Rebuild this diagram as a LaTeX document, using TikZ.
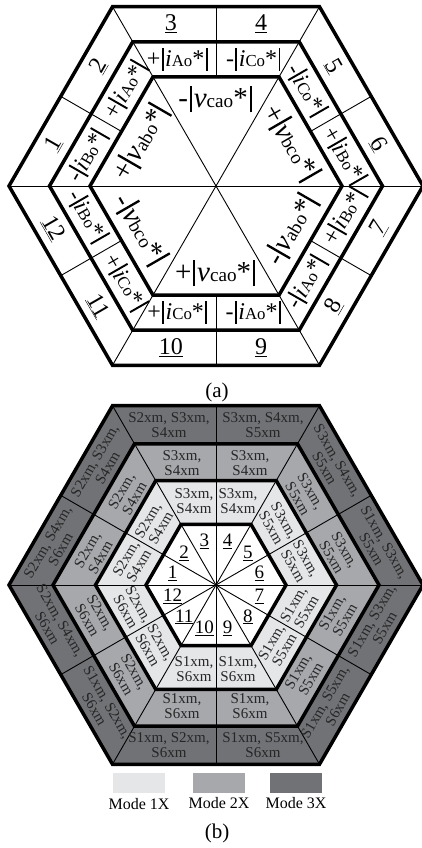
\documentclass[tikz,border=0pt]{standalone}
\usepackage{fontspec}
\setmainfont{Liberation Serif}
\usepackage{graphicx}
\usetikzlibrary{positioning}

\definecolor{modeone}{HTML}{E5E6E8}
\definecolor{modetwo}{HTML}{A7A8AC}
\definecolor{modethree}{HTML}{717276}

\newcommand{\absbar}{\kern.06em\rule[-.15em]{.08em}{.92em}\kern.06em}
\newcommand{\iabs}[2]{#1\absbar\textit{i}\scalebox{.7}{#2}*\absbar}
\newcommand{\vabs}[2]{#1\absbar\textit{v}\scalebox{.66}{#2}*\absbar}

\begin{document}
\begin{tikzpicture}[
  x=1pt, y=1pt,
  bord/.style={line width=3.5pt},
  ray/.style={line width=0.9pt},
  numa/.style={font=\fontsize{24}{26}\selectfont, inner sep=0pt},
  cura/.style={font=\fontsize{24}{26}\selectfont, inner sep=0pt},
  volta/.style={font=\fontsize{29}{31}\selectfont, inner sep=0pt},
  numb/.style={font=\fontsize{19}{21}\selectfont, inner sep=0pt},
  cellb/.style={font=\fontsize{15}{15}\selectfont, align=center,
                inner sep=0pt, text=black!85},
  legbox/.style={minimum width=52pt, minimum height=20pt, inner sep=0pt},
  legtxt/.style={font=\fontsize{16}{18}\selectfont, inner sep=0pt},
  capt/.style={font=\fontsize{21}{23}\selectfont, inner sep=0pt}
]
\useasboundingbox (-216,186) rectangle (206,-662);

% --- (a) sector map -------------------------------------------------------
\foreach \a in {0,60,...,300} \draw[ray] (0,0) -- (\a:207);
\foreach \a in {30,90,...,330} \draw[ray] (\a:109.1) -- (\a:179.3);
\foreach \r in {207,166.5,126}
  \draw[bord] (0:\r) \foreach \a in {60,120,...,300} {-- (\a:\r)} -- cycle;

\foreach \rt/\sd/\na/\nb/\ia/\ib/\vv [count=\k] in {
  0/1/3/4/{\iabs{+}{Ao}}/{\iabs{-}{Co}}/{\vabs{-}{cao}},
  -60/1/5/6/{\iabs{-}{Co}}/{\iabs{+}{Bo}}/{\vabs{+}{bco}},
  60/-1/8/7/{\iabs{-}{Ao}}/{\iabs{+}{Bo}}/{\vabs{-}{abo}},
  0/-1/10/9/{\iabs{+}{Co}}/{\iabs{-}{Ao}}/{\vabs{+}{cao}},
  -60/-1/12/11/{\iabs{-}{Bo}}/{\iabs{+}{Co}}/{\vabs{-}{bco}},
  60/1/1/2/{\iabs{-}{Bo}}/{\iabs{+}{Ao}}/{\vabs{+}{abo}}}
{
  \begin{scope}[rotate=\rt, transform shape]
    \node[numa] (anL\k) at (-45,\sd*162) {\underline{\na}};
    \node[numa] (anR\k) at (45,\sd*162) {\underline{\nb}};
    \node[cura] (aiL\k) at (-38,\sd*126.5) {\ia};
    \node[cura] (aiR\k) at (38,\sd*126.5) {\ib};
    \node[volta] (av\k) at (0,\sd*87) {\vv};
  \end{scope}
}
\node[capt] (capa) at (1,-206) {(a)};

% --- (b) mode map ---------------------------------------------------------
\begin{scope}[shift={(0,-399)}]
  \foreach \r/\c in {207/modethree,163/modetwo,120.5/modeone,70/white}
    \fill[\c] (0:\r) \foreach \a in {60,120,...,300} {-- (\a:\r)} -- cycle;
  \foreach \a in {0,60,...,300} \draw[ray] (0,0) -- (\a:207);
  \foreach \a in {30,90,...,330} \draw[ray] (0,0) -- (\a:179.3);
  \foreach \r in {207,163,120.5,70}
    \draw[bord] (0:\r) \foreach \a in {60,120,...,300} {-- (\a:\r)} -- cycle;

  \foreach \n in {1,...,12}
    \node[numb] (bn\n) at ({195-30*\n}:45) {\underline{\n}};

  \foreach \rt/\sd/\ta/\tb/\tc [count=\k] in {
    0/1/{S2xm, S3xm,\\S4xm}/{S3xm, S4xm,\\S5xm}/{S3xm,\\S4xm},
    -60/1/{S3xm, S4xm,\\S5xm}/{S1xm, S3xm,\\S5xm}/{S3xm,\\S5xm},
    60/-1/{S1xm, S5xm,\\S6xm}/{S1xm, S3xm,\\S5xm}/{S1xm,\\S5xm},
    0/-1/{S1xm, S2xm,\\S6xm}/{S1xm, S5xm,\\S6xm}/{S1xm,\\S6xm},
    -60/-1/{S2xm, S4xm,\\S6xm}/{S1xm, S2xm,\\S6xm}/{S2xm,\\S6xm},
    60/1/{S2xm, S4xm,\\S6xm}/{S2xm, S3xm,\\S4xm}/{S2xm,\\S4xm}}
  {
    \begin{scope}[rotate=\rt, transform shape]
      \node[cellb] (bthL\k) at (-47,\sd*160) {\ta};
      \node[cellb] (bthR\k) at (47,\sd*160) {\tb};
      \node[cellb] (btwL\k) at (-34,\sd*121.5) {\tc};
      \node[cellb] (btwR\k) at (34,\sd*121.5) {\tc};
      \node[cellb] (bonL\k) at (-22,\sd*84) {\tc};
      \node[cellb] (bonR\k) at (22,\sd*84) {\tc};
    \end{scope}
  }
\end{scope}

% --- legend ---------------------------------------------------------------
\node[legbox, fill=modeone] (leg1) at (-77,-596.7) {};
\node[legbox, fill=modetwo] (leg2) at (3,-596.7) {};
\node[legbox, fill=modethree] (leg3) at (80,-596.7) {};
\node[legtxt, below=5pt of leg1] (leg1t) {Mode 1X};
\node[legtxt, below=4pt of leg2] (leg2t) {Mode 2X};
\node[legtxt, below=4pt of leg3] (leg3t) {Mode 3X};
\node[capt] (capb) at (1,-647) {(b)};
\end{tikzpicture}
\end{document}
